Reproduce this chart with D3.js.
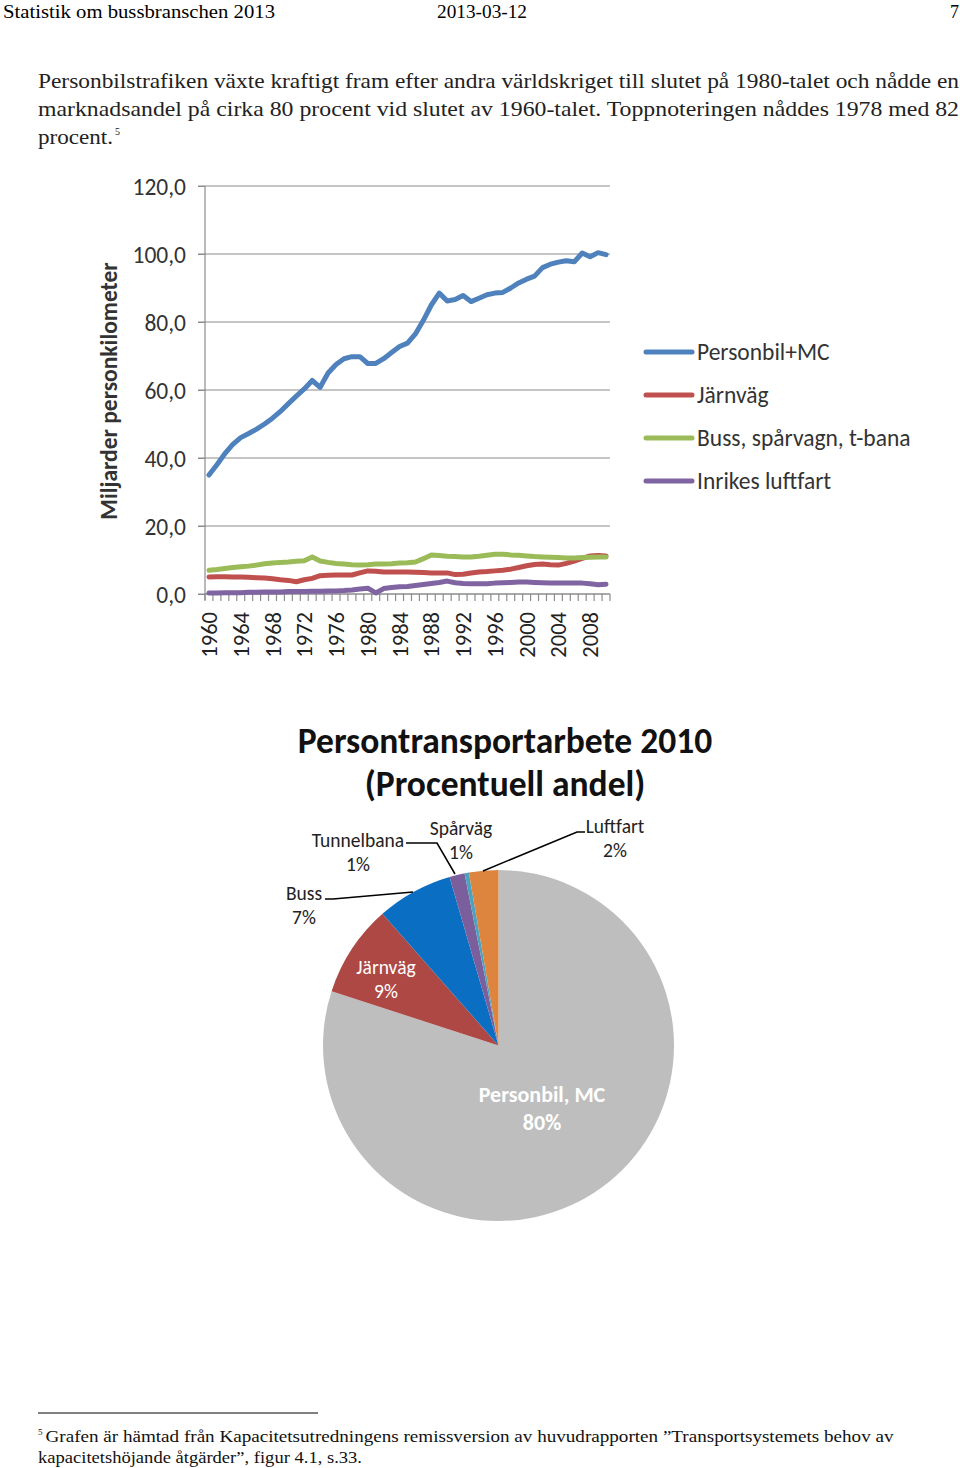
<!DOCTYPE html>
<html><head><meta charset="utf-8">
<script src="https://cdn.jsdelivr.net/npm/d3@7"></script>
<style>
html,body{margin:0;padding:0;background:#fff;}
svg{display:block;}
.serif{font-family:"Liberation Serif","DejaVu Serif",serif;}
.cal{font-family:Carlito,Lato,"Open Sans",sans-serif;}
</style></head>
<body>
<svg id="page" width="960" height="1468"></svg>
<script>
// ---------- Data ----------
const years = [1960,1961,1962,1963,1964,1965,1966,1967,1968,1969,1970,1971,1972,1973,1974,1975,1976,1977,1978,1979,
  1980,1981,1982,1983,1984,1985,1986,1987,1988,1989,1990,1991,1992,1993,1994,1995,1996,1997,1998,1999,
  2000,2001,2002,2003,2004,2005,2006,2007,2008,2009,2010];
const yearTickLabels = ["1960","1964","1968","1972","1976","1980","1984","1988","1992","1996","2000","2004","2008"];
const seriesNames = ["Personbil+MC","Järnväg","Buss, spårvagn, t-bana","Inrikes luftfart"];
const personbil = [35.0,38.0,41.3,44.0,46.0,47.2,48.5,50.0,51.7,53.7,56.0,58.2,60.3,62.8,60.8,65.0,67.5,69.2,69.8,69.8,
  67.8,67.8,69.2,71.0,72.8,73.8,76.5,80.5,85.0,88.5,86.2,86.6,87.8,86.0,87.0,88.0,88.5,88.7,90.0,91.5,
  92.6,93.5,96.0,97.0,97.6,98.0,97.7,100.3,99.2,100.4,99.8];
const jarnvag = [5.0,5.1,5.1,5.0,5.0,4.9,4.8,4.7,4.5,4.2,4.0,3.6,4.2,4.6,5.4,5.5,5.6,5.6,5.6,6.2,
  6.8,6.7,6.5,6.5,6.5,6.5,6.4,6.3,6.2,6.2,6.2,5.7,5.8,6.2,6.5,6.6,6.8,7.0,7.3,7.8,
  8.3,8.7,8.8,8.6,8.5,9.0,9.7,10.5,11.2,11.3,11.2];
const buss = [7.0,7.2,7.5,7.8,8.0,8.2,8.5,8.9,9.1,9.3,9.4,9.6,9.8,10.9,9.7,9.3,9.0,8.8,8.6,8.5,
  8.6,8.8,8.8,8.9,9.1,9.2,9.4,10.4,11.5,11.3,11.1,11.0,10.9,10.9,11.1,11.4,11.7,11.7,11.5,11.4,
  11.2,11.0,10.9,10.8,10.7,10.6,10.6,10.7,10.8,10.9,10.9];
const luftfart = [0.3,0.3,0.4,0.4,0.4,0.5,0.5,0.6,0.6,0.6,0.7,0.7,0.7,0.8,0.8,0.9,0.9,1.0,1.2,1.5,
  1.7,0.3,1.6,1.9,2.1,2.2,2.5,2.8,3.1,3.4,3.8,3.3,3.1,3.0,3.0,3.0,3.2,3.3,3.4,3.5,
  3.5,3.4,3.3,3.2,3.2,3.2,3.2,3.2,3.0,2.7,2.9];
const yTicks = [0,20,40,60,80,100,120];
const lineColors = ["#4F81BD","#C0504D","#9BBB59","#8064A2"];

const pieLabels = ["Personbil, MC","Järnväg","Buss","Tunnelbana","Spårväg","Luftfart"];
const pieValues = [80.0,8.5,7.0,1.4,0.4,2.7];
const pieShownPct = ["80%","9%","7%","1%","1%","2%"];
const pieColors = ["#BEBEBE","#AD4845","#0A6FC2","#7B5F9C","#4BA3C0","#DD853F"];

// ---------- Page text ----------
const svg = d3.select("#page");
svg.append("text").attr("class","serif").attr("x",3).attr("y",18).attr("font-size",18)
  .attr("textLength",272).attr("lengthAdjust","spacingAndGlyphs").text("Statistik om bussbranschen 2013");
svg.append("text").attr("class","serif").attr("x",437).attr("y",18).attr("font-size",18)
  .attr("textLength",90).attr("lengthAdjust","spacingAndGlyphs").text("2013-03-12");
svg.append("text").attr("class","serif").attr("x",959).attr("y",18).attr("font-size",18)
  .attr("text-anchor","end").text("7");

const body = [
  {t:"Personbilstrafiken växte kraftigt fram efter andra världskriget till slutet på 1980-talet och nådde en", y:88, w:921},
  {t:"marknadsandel på cirka 80 procent vid slutet av 1960-talet. Toppnoteringen nåddes 1978 med 82", y:116, w:921}
];
body.forEach(b=>{
  svg.append("text").attr("class","serif").attr("x",38).attr("y",b.y).attr("font-size",21)
    .attr("fill","#222").attr("textLength",b.w).attr("lengthAdjust","spacingAndGlyphs").text(b.t);
});
const l3 = svg.append("text").attr("class","serif").attr("x",38).attr("y",144).attr("font-size",21).attr("fill","#222");
l3.append("tspan").attr("textLength",75).attr("lengthAdjust","spacingAndGlyphs").text("procent.");
l3.append("tspan").attr("font-size",10).attr("dy",-9).attr("dx",2).text("5");

// footnote
svg.append("line").attr("x1",38).attr("x2",318).attr("y1",1413).attr("y2",1413).attr("stroke","#000").attr("stroke-width",1);
const f1 = svg.append("text").attr("class","serif").attr("x",38).attr("y",1442).attr("font-size",17).attr("fill","#111");
f1.append("tspan").attr("font-size",9).attr("dy",-7).text("5");
f1.append("tspan").attr("dy",7).attr("dx",3).attr("textLength",848).attr("lengthAdjust","spacingAndGlyphs")
  .text("Grafen är hämtad från Kapacitetsutredningens remissversion av huvudrapporten ”Transportsystemets behov av");
svg.append("text").attr("class","serif").attr("x",38).attr("y",1463).attr("font-size",17).attr("fill","#111")
  .attr("textLength",324).attr("lengthAdjust","spacingAndGlyphs").text("kapacitetshöjande åtgärder”, figur 4.1, s.33.");

// ---------- Line chart ----------
const L = {left:205, right:610, top:186, bottom:594};
const x = d3.scaleBand().domain(years).range([L.left, L.right]);
const y = d3.scaleLinear().domain([0,120]).range([L.bottom, L.top]);
const g = svg.append("g");

// gridlines
g.selectAll("line.grid").data(yTicks).join("line")
  .attr("x1",L.left-7).attr("x2",L.right).attr("y1",d=>y(d)).attr("y2",d=>y(d))
  .attr("stroke","#8c8c8c").attr("stroke-width",1.2);
// y axis
const yAxis = d3.axisLeft(y).tickValues(yTicks).tickSize(7).tickFormat(d=>d3.format(".1f")(d).replace(".",","));
const ya = g.append("g").attr("transform",`translate(${L.left},0)`).call(yAxis);
ya.select(".domain").attr("stroke","#8c8c8c").attr("stroke-width",1.2).attr("d",`M0,${L.top}V${L.bottom+6}`);
ya.selectAll(".tick line").attr("stroke","#8c8c8c");
ya.selectAll(".tick text").attr("class","cal").attr("font-size",23.5).attr("fill","#333").attr("x",-19).attr("dy","0.35em");

// x axis ticks at category boundaries
const bounds = years.map(yr=>x(yr)).concat([L.right]);
g.selectAll("line.xt").data(bounds).join("line")
  .attr("x1",d=>d).attr("x2",d=>d).attr("y1",L.bottom).attr("y2",L.bottom+7)
  .attr("stroke","#8c8c8c").attr("stroke-width",1.2);
g.append("line").attr("x1",L.left).attr("x2",L.right).attr("y1",L.bottom).attr("y2",L.bottom)
  .attr("stroke","#8c8c8c").attr("stroke-width",1.2);
g.selectAll("text.xl").data(yearTickLabels).join("text")
  .attr("class","cal").attr("font-size",22.5).attr("fill","#222")
  .attr("transform",d=>`translate(${x(+d)+x.bandwidth()/2+8},${L.bottom+18}) rotate(-90)`)
  .attr("text-anchor","end").text(d=>d);

// y title
g.append("text").attr("class","cal").attr("font-size",23.5).attr("font-weight","bold").attr("fill","#333")
  .attr("transform",`translate(117,391) rotate(-90)`).attr("text-anchor","middle").text("Miljarder personkilometer");

// lines
const seriesData = [personbil, jarnvag, buss, luftfart];
const lineGen = d3.line().x((d,i)=>x(years[i])+x.bandwidth()/2).y(d=>y(d));
const drawOrder = [3,1,2,0];
drawOrder.forEach(k=>{
  g.append("path").datum(seriesData[k]).attr("d",lineGen).attr("fill","none")
    .attr("stroke",lineColors[k]).attr("stroke-width",5).attr("stroke-linejoin","round").attr("stroke-linecap","round");
});

// legend
const legY = [352,395,438,481];
seriesNames.forEach((n,i)=>{
  g.append("line").attr("x1",646).attr("x2",692).attr("y1",legY[i]).attr("y2",legY[i])
    .attr("stroke",lineColors[i]).attr("stroke-width",5).attr("stroke-linecap","round");
  g.append("text").attr("class","cal").attr("x",697).attr("y",legY[i]).attr("dy","0.35em")
    .attr("font-size",23.5).attr("fill","#333").text(n);
});

// ---------- Pie ----------
const P = {cx:498.5, cy:1045.5, r:175.5};
const pg = svg.append("g").attr("transform",`translate(${P.cx},${P.cy})`);
const arcs = d3.pie().sort(null).value(d=>d)(pieValues);
const arc = d3.arc().innerRadius(0).outerRadius(P.r);
pg.selectAll("path").data(arcs).join("path").attr("d",arc).attr("fill",(d,i)=>pieColors[i]);

svg.append("text").attr("class","cal").attr("x",505).attr("y",753).attr("text-anchor","middle")
  .attr("font-size",35.5).attr("font-weight","bold").attr("fill","#111").text("Persontransportarbete 2010");
svg.append("text").attr("class","cal").attr("x",505).attr("y",796).attr("text-anchor","middle")
  .attr("font-size",35.5).attr("font-weight","bold").attr("fill","#111").text("(Procentuell andel)");

// label positions (layout)
const labPos = [
  {x:542, y:1096, fill:"#fff", bold:true, fs:22},
  {x:386, y:968, fill:"#fff", bold:false, fs:19.5},
  {x:304, y:894, fill:"#222", bold:false, fs:19.5},
  {x:358, y:841, fill:"#222", bold:false, fs:19.5},
  {x:461, y:829, fill:"#222", bold:false, fs:19.5},
  {x:615, y:827, fill:"#222", bold:false, fs:19.5}
];
pieLabels.forEach((lab,i)=>{
  const p = labPos[i];
  const t = svg.append("text").attr("class","cal").attr("text-anchor","middle")
    .attr("font-size",p.fs).attr("fill",p.fill).attr("font-weight",p.bold?"bold":"normal");
  t.append("tspan").attr("x",p.x).attr("y",p.y+6).text(lab);
  t.append("tspan").attr("x",p.x).attr("y",p.y+6+(p.bold?28:24)).text(pieShownPct[i]);
});
// leader lines
const leaders = [
  [[325,899],[333,899],[413,892]],
  [[406,843],[437,843],[455,874]],
  [[585,832],[577,832],[483,871]]
];
leaders.forEach(pts=>{
  svg.append("path").attr("d",d3.line()(pts)).attr("fill","none").attr("stroke","#000").attr("stroke-width",1.5);
});
</script>
</body></html>
